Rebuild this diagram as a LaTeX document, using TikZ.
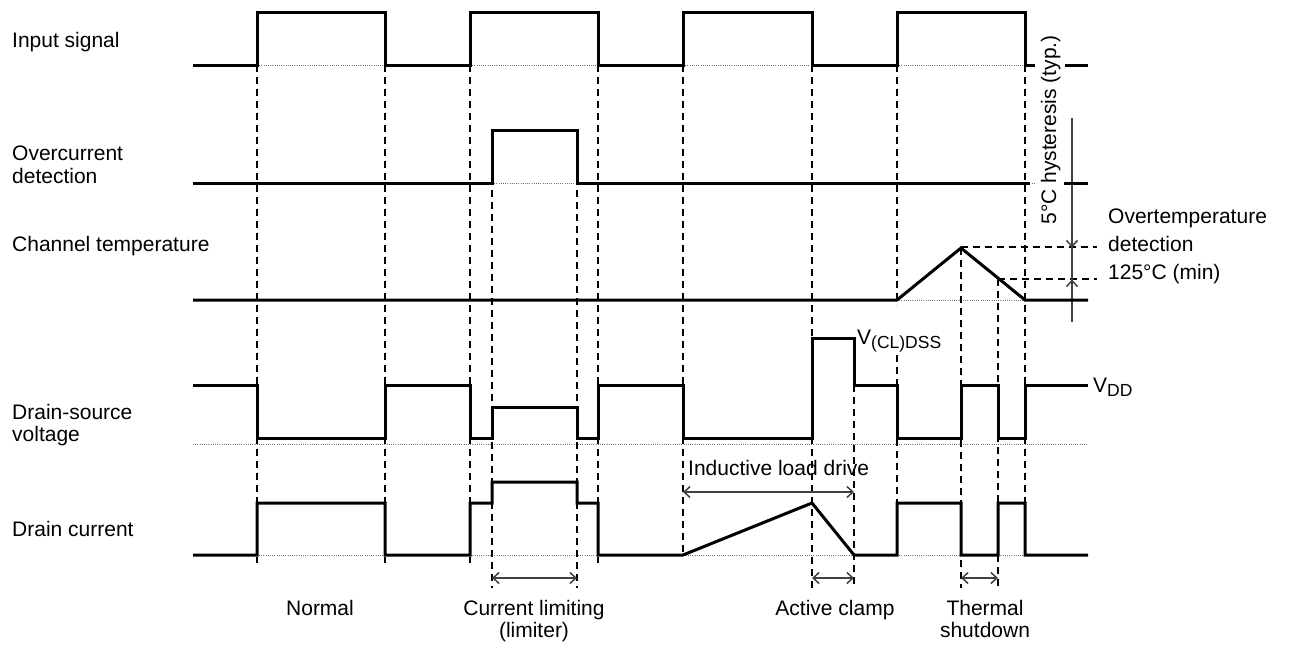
\documentclass[tikz,border=0pt]{standalone}
\usepackage{fontspec}
\setmainfont{Liberation Sans}
\usetikzlibrary{arrows.meta}
\begin{document}
\begin{tikzpicture}[x=1pt,y=-1pt,
  wave/.style={line width=3pt,line join=miter,line cap=butt},
  guide/.style={line width=1.3pt,dash pattern=on 7pt off 5pt},
  refline/.style={line width=1pt,black!55,dash pattern=on 1pt off 1.2pt},
  dimline/.style={line width=1.5pt,black!75},
  dimarrow/.style={dimline,{Straight Barb[length=6pt,width=11pt]}-{Straight Barb[length=6pt,width=11pt]}},
  onearrow/.style={dimline,-{Straight Barb[length=6pt,width=11pt]}},
  lbl/.style={inner sep=0pt,font=\fontsize{21}{24}\selectfont}]
\useasboundingbox (0,0) rectangle (1290,646);
% reference (dotted) lines
\draw[refline] (257,65)--(385,65) (470,65)--(598,65) (683,65)--(812,65) (897,65)--(1025,65);
\draw[refline] (492,183)--(577,183) (1025,183)--(1035,183);
\draw[refline] (897,300)--(1025,300);
\draw[refline] (193,444)--(1088,444);
\draw[refline] (193,555)--(1088,555);
% vertical guides
\draw[guide] (257,65)--(257,563) (385,65)--(385,563) (470,65)--(470,563) (598,65)--(598,563);
\draw[guide] (492,130)--(492,588) (577,130)--(577,588);
\draw[guide] (683,65)--(683,556) (812,65)--(812,588) (854,385)--(854,588);
\draw[guide] (897,65)--(897,305) (897,355)--(897,555) (1025,65)--(1025,555);
\draw[guide] (961,248)--(961,588) (998,279)--(998,588);
% horizontal guides for temperature thresholds
\draw[guide] (961,247)--(1097,247) (998,279)--(1097,279);
% hysteresis dimension
\draw[dimline] (1072,118)--(1072,322);
\draw[onearrow] (1072,225)--(1072,247.5);
\draw[onearrow] (1072,302)--(1072,279.5);
% waveforms
\draw[wave] (193,65)--(257,65)--(257,12)--(385,12)--(385,65)--(470,65)--(470,12)--(598,12)--(598,65)--(683,65)--(683,12)--(812,12)--(812,65)--(897,65)--(897,12)--(1025,12)--(1025,65)--(1035,65);
\draw[wave] (1065,65)--(1088,65);
\draw[wave] (193,183)--(492,183)--(492,130)--(577,130)--(577,183)--(1030,183);
\draw[wave] (1064,183)--(1088,183);
\draw[wave] (193,300)--(897,300)--(961,248)--(1025,300)--(1088,300);
\draw[wave] (193,385)--(257,385)--(257,438)--(385,438)--(385,385)--(470,385)--(470,438)--(492,438)--(492,407)--(577,407)--(577,438)--(598,438)--(598,385)--(683,385)--(683,438)--(812,438)--(812,338)--(854,338)--(854,385)--(897,385)--(897,438)--(961,438)--(961,385)--(998,385)--(998,438)--(1025,438)--(1025,385)--(1088,385);
\draw[wave] (193,555)--(257,555)--(257,503)--(385,503)--(385,555)--(470,555)--(470,503)--(492,503)--(492,482)--(577,482)--(577,503)--(598,503)--(598,555)--(683,555)--(812,503)--(854,555)--(897,555)--(897,503)--(961,503)--(961,555)--(998,555)--(998,503)--(1025,503)--(1025,555)--(1088,555);
% interval arrows
\coordinate (cl1) at (492,578); \coordinate (cl2) at (577,578);
\coordinate (ld1) at (683,492); \coordinate (ld2) at (854,492);
\coordinate (ac1) at (812,578); \coordinate (ac2) at (854,578);
\coordinate (ts1) at (961,578); \coordinate (ts2) at (998,578);
\draw[dimarrow] (cl1)--(cl2);
\draw[dimarrow] (ld1)--(ld2);
\draw[dimarrow] (ac1)--(ac2);
\draw[dimarrow] (ts1)--(ts2);
% left labels
\node[lbl,anchor=base west] (tin) at (12,47) {Input signal};
\node[lbl,anchor=base west] (toc1) at (12,160) {Overcurrent};
\node[lbl,anchor=base west] (toc2) at (12,183) {detection};
\node[lbl,anchor=base west] (tct) at (12,251) {Channel temperature};
\node[lbl,anchor=base west] (tds1) at (12,419) {Drain-source};
\node[lbl,anchor=base west] (tds2) at (12,441) {voltage};
\node[lbl,anchor=base west] (tdc) at (12,536) {Drain current};
% bottom labels
\node[lbl,anchor=base] (tn) at (320,615) {Normal};
\node[lbl,anchor=base] (tcl1) at (534,615) {Current limiting};
\node[lbl,anchor=base] (tcl2) at (534,637) {(limiter)};
\node[lbl,anchor=base] (tac) at (835,615) {Active clamp};
\node[lbl,anchor=base] (tts1) at (985,615) {Thermal};
\node[lbl,anchor=base] (tts2) at (985,637) {shutdown};
% other labels
\node[lbl,anchor=base west] (tld) at (688,475) {Inductive load drive};
\node[lbl,anchor=base west] (tvcl) at (857,344) {V\raisebox{-4pt}{\fontsize{17.5}{20}\selectfont (CL)DSS}};
\node[lbl,anchor=base west] (tvdd) at (1093,392) {V\raisebox{-4pt}{\fontsize{17.5}{20}\selectfont DD}};
\node[lbl,anchor=base west] (tot1) at (1108,223) {Overtemperature};
\node[lbl,anchor=base west] (tot2) at (1108,251) {detection};
\node[lbl,anchor=base west] (tot3) at (1108,279) {125°C (min)};
\node[lbl,anchor=base,rotate=90] (thy) at (1056,130) {5°C hysteresis (typ.)};
\end{tikzpicture}
\end{document}
